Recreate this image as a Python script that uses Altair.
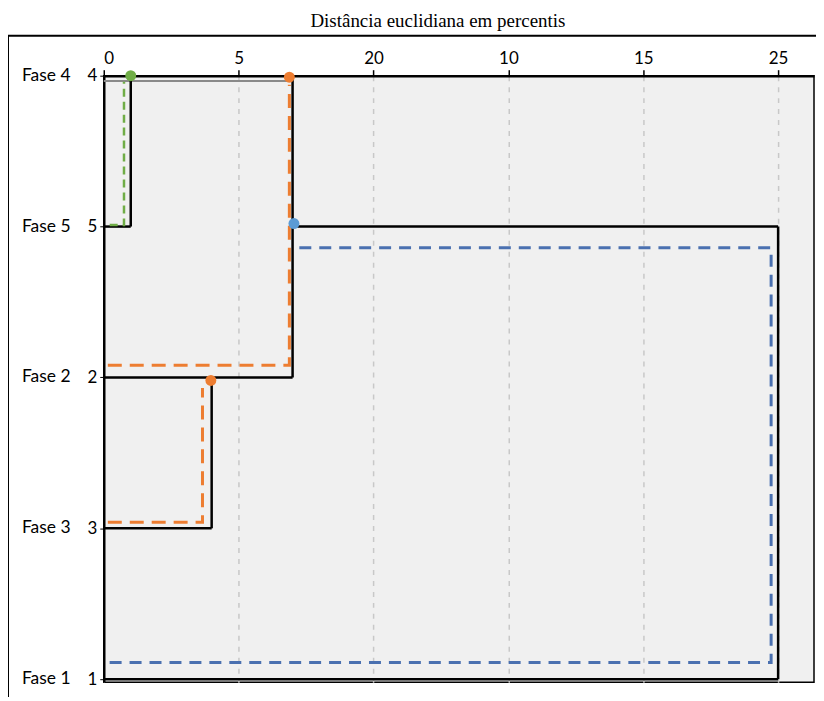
import altair as alt
import pandas as pd

# ---- data ----
leaf_labels = ["4", "5", "2", "3", "1"]
phase_names = ["Fase 4", "Fase 5", "Fase 2", "Fase 3", "Fase 1"]
leaf_rank = [0, 1, 2, 3, 4]
x_tick_values = [0, 5, 10, 15, 20, 25]
x_tick_labels = ["0", "5", "20", "10", "15", "25"]

# black dendrogram segments (x in distance units, y in leaf rank)
seg_x1 = [0.0, 1.0, 7.0, 0.0, 4.0, 0.0, 7.0, 25.0, 0.0]
seg_x2 = [1.0, 1.0, 7.0, 7.0, 4.0, 4.0, 25.0, 25.0, 25.0]
seg_y1 = [1.0, 0.0, 0.0, 2.0, 2.0, 3.0, 1.0, 1.0, 4.0]
seg_y2 = [1.0, 1.0, 2.0, 2.0, 3.0, 3.0, 1.0, 4.0, 4.0]

# coloured dashed paths
green_x = [0.22, 0.75, 0.75]
green_y = [0.99, 0.99, 0.04]
orange1_x = [0.15, 6.88, 6.88]
orange1_y = [1.92, 1.92, 0.06]
orange2_x = [0.15, 3.66, 3.66]
orange2_y = [2.96, 2.96, 2.07]
blue_x = [7.25, 24.74, 24.74, 0.15]
blue_y = [1.14, 1.14, 3.89, 3.89]
gray_x = [0.0, 6.88]
gray_y = [0.035, 0.035]

# merge dots
dot_x = [1.0, 6.88, 3.97, 7.05]
dot_y = [0.0, 0.01, 2.02, 0.98]
dot_color = ["#70ad47", "#ed7d31", "#ed7d31", "#5b9bd5"]

X_MAX = 26.33
Y_MAX = 4.02

xscale = alt.Scale(domain=[0, X_MAX], nice=False, zero=False)
yscale = alt.Scale(domain=[0, Y_MAX], nice=False, zero=False, reverse=True)

xlabel_expr = "[" + ",".join("'%s'" % s for s in x_tick_labels) + "][round(datum.value/5)]"
ylabel_expr = "[" + ",".join("'%s'" % s for s in leaf_labels) + "][round(datum.value)]"

FONT = "Lato"

xaxis = alt.Axis(orient="top", values=x_tick_values, labelExpr=xlabel_expr, title=None,
                 grid=True, gridDash=[5, 6], gridColor="#c8c8c8", gridWidth=1.5,
                 domainColor="black", domainWidth=2.5, tickColor="black", tickSize=6,
                 tickWidth=1.5, labelFont=FONT, labelFontSize=17, labelColor="black",
                 labelPadding=2)
yaxis = alt.Axis(values=leaf_rank, labelExpr=ylabel_expr, title=None, grid=False,
                 domainColor="black", domainWidth=2.5, tickColor="black", tickSize=4,
                 labelFont=FONT, labelFontSize=17, labelColor="black", labelPadding=3)

segs = pd.DataFrame({"x1": seg_x1, "x2": seg_x2, "y1": seg_y1, "y2": seg_y2})
black = alt.Chart(segs).mark_rule(color="black", strokeWidth=2.5).encode(
    x=alt.X("x1:Q", scale=xscale, axis=xaxis),
    x2="x2:Q",
    y=alt.Y("y1:Q", scale=yscale, axis=yaxis),
    y2="y2:Q",
)


def path(xs, ys, color, dash, width):
    df = pd.DataFrame({"x": xs, "y": ys, "o": list(range(len(xs)))})
    return alt.Chart(df).mark_line(color=color, strokeDash=dash, strokeWidth=width,
                                   strokeCap="butt").encode(
        x=alt.X("x:Q", scale=xscale), y=alt.Y("y:Q", scale=yscale), order="o:Q")


gray = alt.Chart(pd.DataFrame({"x": gray_x, "y": gray_y})).mark_line(
    color="#8a8a8a", strokeWidth=2).encode(x=alt.X("x:Q", scale=xscale), y=alt.Y("y:Q", scale=yscale))

green = path(green_x, green_y, "#70ad47", [8, 5], 2.5)
orange1 = path(orange1_x, orange1_y, "#ed7d31", [14, 8], 3)
orange2 = path(orange2_x, orange2_y, "#ed7d31", [14, 8], 3)
blue = path(blue_x, blue_y, "#4a70b0", [12, 8], 3)

dots = alt.Chart(pd.DataFrame({"x": dot_x, "y": dot_y, "c": dot_color})).mark_circle(
    size=120, opacity=1).encode(
    x=alt.X("x:Q", scale=xscale), y=alt.Y("y:Q", scale=yscale),
    color=alt.Color("c:N", scale=None))

names = alt.Chart(pd.DataFrame({"name": phase_names, "r": leaf_rank})).mark_text(
    align="left", baseline="middle", font=FONT, fontSize=17.5, color="black").encode(
    x=alt.value(-82), y=alt.Y("r:Q", scale=yscale), text="name:N")

frame = alt.Chart(pd.DataFrame({"a": [0]})).mark_rect(
    filled=False, stroke="black", strokeWidth=2).encode(
    x=alt.value(-96), x2=alt.value(760), y=alt.value(-40), y2=alt.value(700))

chart = alt.layer(frame, gray, black, green, orange1, orange2, blue, dots, names).properties(
    width=712, height=608,
    padding={"left": 96, "top": 67, "right": 2, "bottom": 14},
    autosize=alt.AutoSizeParams(type="none"),
    title=alt.TitleParams("Distância euclidiana em percentis", font="Liberation Serif",
                          fontSize=19, fontWeight="normal", color="black", dx=-21, offset=4),
).configure_view(fill="#f0f0f0", stroke="black", strokeWidth=1.5)

chart.save("out.html", embed_options={"renderer": "svg", "actions": False})
